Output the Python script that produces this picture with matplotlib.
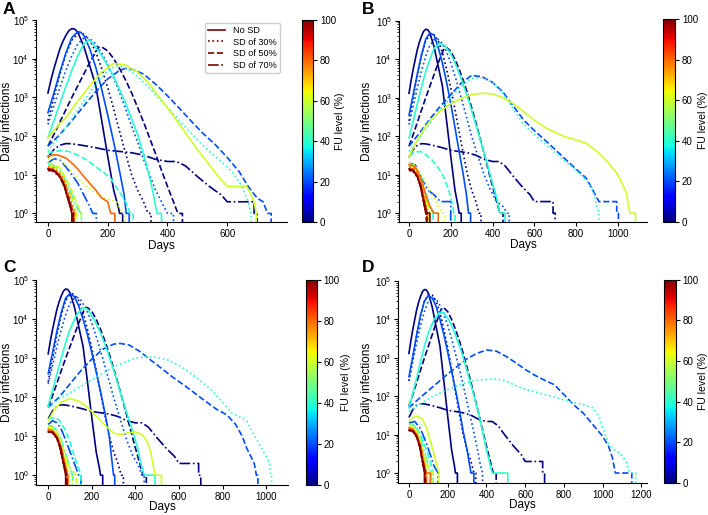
import matplotlib
matplotlib.use("Agg")
import matplotlib.pyplot as plt
from matplotlib.lines import Line2D
from matplotlib.colors import Normalize
from matplotlib.cm import ScalarMappable

plt.rcParams['font.family'] = ['Liberation Sans', 'DejaVu Sans']

# FU level (%) -> colour via jet; SD level -> line style
fu_levels = [0, 20, 40, 60, 80, 100]
sd_labels = ['No SD', 'SD of 30%', 'SD of 50%', 'SD of 70%']
sd_styles = ['-', ':', '--', '-.']

# curves shared by all panels (FU = 0 %)
fu0_curves = [
    (0, '-', [0, 10, 20, 30, 40, 50, 60, 70, 80, 90, 100, 120, 140, 160, 180, 200, 220, 235, 240, 250, 250],
     [1300, 2800, 5500, 1e4, 1.8e4, 2.8e4, 4e4, 5.3e4, 6e4, 5.8e4, 4.8e4, 2.1e4, 6500, 2000, 250, 30, 4, 1.5, 1, 1, 0]),
    (0, ':', [0, 20, 40, 60, 80, 100, 110, 120, 140, 160, 180, 200, 220, 240, 260, 280, 300, 320, 335, 345, 345],
     [250, 1000, 4000, 1.3e4, 3e4, 4.4e4, 4.5e4, 4.3e4, 3e4, 1.5e4, 5500, 1800, 500, 130, 35, 10, 4, 2, 1, 1, 0]),
    (0, '--', [0, 20, 40, 60, 80, 100, 120, 140, 160, 170, 180, 200, 220, 240, 260, 280, 300, 320, 340, 360, 380, 400, 420, 435, 450, 450],
     [55, 110, 230, 480, 1000, 2000, 4000, 8000, 1.5e4, 2e4, 2e4, 1.6e4, 1e4, 5500, 2800, 1300, 550, 230, 90, 35, 13, 5, 2, 1, 1, 0]),
    (0, '-.', [0, 20, 40, 60, 80, 100, 130, 160, 200, 240, 280, 320, 360, 400, 430, 460, 500, 540, 580, 600, 660, 690, 690, 700, 700],
     [28, 45, 58, 64, 63, 60, 55, 50, 43, 40, 37, 32, 25, 22, 22, 17, 9, 5, 3, 2, 2, 2, 1, 1, 0]),
]

panel_a = [
    (20, '-', [0, 20, 40, 60, 80, 100, 110, 120, 140, 160, 180, 200, 220, 240, 255, 262, 272, 272],
     [400, 1300, 4500, 1.4e4, 3.5e4, 5e4, 4.8e4, 4e4, 1.8e4, 6000, 1600, 350, 70, 12, 3, 1, 1, 0]),
    (20, ':', [0, 20, 40, 60, 80, 100, 120, 130, 140, 160, 180, 200, 220, 240, 260, 280, 300, 320, 340, 360, 380, 400, 420, 420],
     [200, 600, 1800, 5000, 1.2e4, 2.4e4, 3.4e4, 3.5e4, 3.3e4, 2.4e4, 1.4e4, 7000, 3200, 1300, 500, 180, 70, 25, 10, 4, 2, 1, 1, 0]),
    (20, '--', [0, 40, 80, 120, 160, 200, 240, 260, 280, 320, 360, 400, 440, 480, 520, 560, 600, 640, 670, 700, 720, 735, 747, 747],
     [55, 110, 250, 600, 1400, 3000, 5000, 5600, 5400, 4000, 2200, 1100, 520, 240, 115, 60, 28, 12, 5, 2.5, 2, 1, 1, 0]),
    (20, '-.', [0, 20, 40, 60, 80, 100, 120, 140, 150, 162, 162],
     [20, 26, 24, 16, 10, 6, 3, 1.5, 1, 1, 0]),
    (40, '-', [0, 20, 40, 60, 80, 100, 120, 140, 180, 220, 260, 300, 330, 350, 365, 380, 380],
     [90, 250, 700, 1900, 5000, 1.2e4, 2.4e4, 3.1e4, 1.2e4, 3500, 700, 110, 18, 4, 1, 1, 0]),
    (40, ':', [0, 40, 80, 120, 160, 200, 230, 260, 300, 340, 380, 420, 460, 500, 540, 580, 620, 650, 670, 680, 680],
     [40, 100, 280, 800, 2200, 5000, 6500, 5800, 3500, 1700, 800, 370, 170, 80, 40, 22, 11, 5, 2, 1, 0]),
    (40, '--', [0, 20, 45, 70, 100, 130, 160, 190, 210, 240, 260, 275, 285, 285],
     [35, 40, 42, 40, 32, 24, 16, 11, 8, 3.5, 2, 1, 1, 0]),
    (40, '-.', [0, 20, 40, 60, 80, 100, 112, 112], [18, 17, 13, 7, 3, 1.3, 1, 0]),
    (60, '-', [0, 30, 60, 100, 140, 180, 220, 260, 300, 340, 380, 420, 460, 500, 540, 570, 600, 640, 665, 680, 690, 697, 697],
     [90, 170, 300, 800, 2000, 4500, 7600, 6800, 4500, 2200, 850, 330, 120, 45, 18, 9, 5, 5, 5, 3, 2, 1, 0]),
    (60, ':', [0, 20, 40, 60, 80, 100, 130, 160, 190, 230, 250, 258, 258],
     [25, 27, 24, 18, 12, 8, 5, 3.3, 2.5, 2, 1, 1, 0]),
    (60, '--', [0, 20, 40, 60, 80, 100, 112, 118], [20, 19, 15, 8, 4, 1.6, 1, 0]),
    (60, '-.', [0, 20, 40, 60, 80, 95, 105], [17, 16, 12, 6, 2.5, 1, 0]),
    (80, '-', [0, 20, 35, 60, 80, 100, 120, 140, 160, 180, 200, 210, 224, 224],
     [30, 33, 32, 27, 20, 14, 9, 6, 4, 2.5, 2, 1, 1, 0]),
    (80, ':', [0, 20, 40, 60, 75, 90, 100], [16, 15, 11, 6, 2.5, 1, 0]),
    (80, '--', [0, 20, 40, 60, 75, 88, 98], [15, 14, 10, 5, 2, 1, 0]),
    (80, '-.', [0, 20, 40, 60, 75, 85, 92], [14, 13, 9, 4, 1.5, 1, 0]),
    (100, '-', [0, 20, 40, 55, 70, 80, 88], [14, 13, 9, 5, 2, 1, 0]),
    (100, ':', [0, 20, 40, 55, 70, 82, 90], [13, 12, 8.5, 5, 2, 1, 0]),
    (100, '--', [0, 20, 40, 55, 70, 84, 92], [13, 12.5, 9, 5, 2, 1, 0]),
    (100, '-.', [0, 20, 40, 55, 70, 85, 95], [14, 13, 9, 5.5, 2.2, 1, 0]),
]

panel_b = [
    (20, '-', [0, 20, 40, 60, 80, 100, 120, 140, 160, 180, 200, 220, 240, 260, 275, 285, 295, 295],
     [350, 1200, 4200, 1.3e4, 3.3e4, 4.8e4, 4.2e4, 2e4, 8000, 2500, 700, 170, 40, 10, 3, 1, 1, 0]),
    (20, ':', [0, 20, 40, 60, 80, 100, 120, 135, 150, 175, 200, 225, 250, 275, 300, 330, 360, 390, 420, 450, 470, 480, 480],
     [200, 600, 1800, 5000, 1.2e4, 2.3e4, 3.2e4, 3.4e4, 3e4, 1.8e4, 8000, 3000, 1000, 320, 100, 30, 10, 4, 2, 1.5, 1, 1, 0]),
    (20, '--', [0, 50, 100, 150, 200, 250, 300, 350, 400, 450, 500, 550, 600, 650, 700, 750, 800, 850, 880, 910, 950, 995, 995, 1003, 1003],
     [55, 120, 280, 600, 1200, 2400, 3800, 3500, 2500, 1400, 600, 260, 140, 80, 45, 25, 14, 8, 4, 2, 2, 2, 1, 1, 0]),
    (20, '-.', [0, 30, 60, 90, 120, 150, 200, 200], [20, 18, 8, 4, 3, 2, 2, 0]),
    (40, '-', [0, 20, 40, 60, 80, 100, 120, 145, 170, 200, 230, 260, 290, 320, 350, 380, 400, 420, 435, 460, 460],
     [90, 250, 700, 1900, 4800, 1e4, 1.9e4, 2.6e4, 2.3e4, 1.4e4, 6000, 2200, 700, 200, 55, 15, 6, 2.5, 1, 1, 0]),
    (40, ':', [0, 50, 100, 150, 200, 250, 300, 350, 400, 450, 500, 550, 600, 650, 700, 750, 800, 850, 880, 900, 910, 910],
     [40, 90, 220, 500, 1000, 2000, 3200, 3300, 2500, 1300, 500, 200, 110, 65, 38, 22, 13, 7, 4, 1.5, 1, 0]),
    (40, '--', [0, 25, 55, 80, 110, 140, 165, 190, 205, 215, 220, 220],
     [30, 38, 40, 33, 24, 15, 9, 4, 2, 1, 1, 0]),
    (40, '-.', [0, 20, 40, 60, 80, 100, 115, 115], [19, 18, 14, 8, 3.5, 1.5, 1, 0]),
    (60, '-', [0, 20, 40, 70, 100, 150, 200, 250, 300, 350, 400, 450, 500, 550, 600, 650, 700, 750, 800, 850, 900, 950, 1000, 1040, 1058, 1085, 1085],
     [28, 50, 80, 150, 250, 450, 700, 950, 1200, 1300, 1250, 1000, 700, 430, 260, 170, 125, 95, 80, 65, 40, 22, 10, 3.5, 1, 1, 0]),
    (60, ':', [0, 30, 60, 90, 110, 130, 160, 170, 170], [20, 18, 10, 5, 3, 2, 1, 1, 0]),
    (60, '--', [0, 20, 40, 60, 80, 100, 110], [18, 17, 13, 7, 3, 1.2, 0]),
    (60, '-.', [0, 20, 40, 60, 80, 95, 105], [17, 16, 12, 6, 2.5, 1, 0]),
    (80, '-', [0, 20, 40, 60, 80, 100, 120, 140, 140], [18, 17, 13, 7, 3, 1.5, 1, 1, 0]),
    (80, ':', [0, 20, 40, 60, 75, 90, 100], [16, 15, 11, 6, 2.5, 1, 0]),
    (80, '--', [0, 20, 40, 60, 75, 88, 98], [15, 14, 10, 5, 2, 1, 0]),
    (80, '-.', [0, 20, 40, 60, 75, 85, 92], [14, 13, 9, 4, 1.5, 1, 0]),
    (100, '-', [0, 20, 40, 55, 70, 80, 100, 100], [14, 13, 9, 5, 2, 1, 1, 0]),
    (100, ':', [0, 20, 40, 55, 70, 82, 90], [13, 12, 8.5, 5, 2, 1, 0]),
    (100, '--', [0, 20, 40, 55, 70, 84, 92], [13, 12.5, 9, 5, 2, 1, 0]),
    (100, '-.', [0, 20, 40, 55, 70, 85, 95], [14, 13, 9, 5.5, 2.2, 1, 0]),
]

panel_c = [
    (20, '-', [0, 20, 40, 60, 80, 100, 120, 140, 160, 180, 200, 220, 240, 260, 280, 290, 300, 305, 305],
     [400, 1400, 5000, 1.5e4, 3.5e4, 4.6e4, 3.8e4, 2.2e4, 1e4, 4000, 1400, 450, 140, 40, 10, 3, 1, 1, 0]),
    (20, ':', [0, 20, 40, 60, 80, 100, 120, 135, 150, 175, 200, 225, 250, 275, 300, 330, 360, 390, 410, 430, 440, 440],
     [220, 650, 2000, 5500, 1.3e4, 2.6e4, 3.5e4, 3.6e4, 3.1e4, 1.8e4, 8000, 3000, 1000, 320, 100, 28, 8, 3, 2, 1, 1, 0]),
    (20, '--', [0, 50, 100, 150, 200, 250, 300, 330, 370, 420, 470, 520, 570, 620, 670, 720, 770, 820, 860, 890, 910, 930, 945, 955, 962, 962],
     [55, 100, 220, 480, 950, 1700, 2300, 2400, 2200, 1500, 900, 550, 330, 210, 130, 80, 50, 35, 20, 10, 5, 3, 2, 1, 1, 0]),
    (20, '-.', [0, 20, 40, 60, 80, 100, 120, 140, 150, 150], [20, 25, 22, 15, 8, 4, 2, 1, 1, 0]),
    (40, '-', [0, 20, 40, 60, 80, 100, 130, 160, 180, 210, 240, 270, 300, 330, 360, 390, 410, 425, 440, 490, 490],
     [60, 150, 400, 1000, 2500, 5500, 1.3e4, 2e4, 1.8e4, 1e4, 4500, 1600, 500, 140, 40, 12, 5, 2, 1, 1, 0]),
    (40, ':', [0, 50, 100, 150, 200, 250, 300, 350, 400, 450, 500, 550, 600, 650, 700, 750, 800, 840, 880, 910, 940, 970, 1000, 1015, 1020, 1025, 1025],
     [55, 90, 130, 190, 280, 420, 600, 800, 1000, 1100, 1050, 900, 650, 430, 260, 150, 75, 40, 31, 25, 12, 6, 3, 2, 1, 1, 0]),
    (40, '--', [0, 30, 50, 80, 100, 120, 140, 150, 155], [28, 30, 26, 14, 7, 3, 1.5, 1, 0]),
    (40, '-.', [0, 20, 40, 60, 80, 100, 112, 118], [19, 18, 14, 8, 3.5, 1.5, 1, 0]),
    (60, '-', [0, 30, 60, 100, 140, 180, 210, 240, 270, 300, 330, 360, 400, 430, 450, 470, 480, 490, 520, 520],
     [25, 50, 75, 92, 80, 55, 38, 25, 17, 12, 11, 12, 13, 11, 8, 4, 2, 1, 1, 0]),
    (60, ':', [0, 20, 40, 60, 80, 100, 110, 110], [17, 16, 12, 6, 2.5, 1, 1, 0]),
    (60, '--', [0, 20, 40, 60, 80, 100, 130, 130], [18, 17, 13, 7, 3, 1.5, 1, 0]),
    (60, '-.', [0, 20, 40, 60, 80, 95, 105], [16, 15, 11, 6, 2.5, 1, 0]),
    (80, '-', [0, 20, 40, 60, 75, 90, 100], [15, 14, 10, 5, 2, 1, 0]),
    (80, ':', [0, 20, 40, 60, 75, 90, 100], [15, 14, 10, 5.5, 2.3, 1, 0]),
    (80, '--', [0, 20, 40, 60, 75, 88, 98], [14, 13, 9.5, 5, 2, 1, 0]),
    (80, '-.', [0, 20, 40, 60, 75, 85, 92], [14, 13, 9, 4, 1.5, 1, 0]),
    (100, '-', [0, 20, 40, 55, 70, 80, 88], [13, 12.5, 9, 5, 2, 1, 0]),
    (100, ':', [0, 20, 40, 55, 70, 82, 90], [13, 12, 8.5, 5, 2, 1, 0]),
    (100, '--', [0, 20, 40, 55, 70, 84, 92], [13, 12.5, 9, 5, 2, 1, 0]),
    (100, '-.', [0, 20, 40, 55, 70, 85, 95], [13, 12.5, 9, 5.5, 2.2, 1, 0]),
]

panel_d = [
    (20, '-', [0, 20, 40, 60, 80, 100, 120, 140, 160, 180, 200, 220, 240, 260, 280, 300, 310, 320, 335, 335],
     [320, 1100, 4000, 1.3e4, 3e4, 4.2e4, 3.6e4, 2.2e4, 1e4, 4000, 1400, 450, 150, 45, 12, 4, 2, 1, 1, 0]),
    (20, ':', [0, 20, 40, 60, 80, 100, 120, 135, 150, 175, 200, 225, 250, 275, 300, 330, 350, 370, 380, 380],
     [250, 800, 2500, 7000, 1.6e4, 3e4, 3.6e4, 3.5e4, 2.9e4, 1.6e4, 7000, 2500, 800, 250, 70, 15, 5, 1.5, 1, 0]),
    (20, '--', [0, 50, 100, 150, 200, 250, 300, 350, 400, 450, 500, 550, 600, 650, 700, 750, 800, 850, 900, 950, 1000, 1030, 1050, 1065, 1150, 1150],
     [50, 85, 140, 230, 380, 600, 950, 1300, 1600, 1500, 1100, 750, 500, 350, 260, 200, 110, 60, 36, 18, 9, 5, 2.5, 1, 1, 0]),
    (20, '-.', [0, 30, 60, 90, 110, 130, 150, 155], [20, 22, 14, 6, 3, 1.5, 1, 0]),
    (40, '-', [0, 20, 40, 60, 80, 100, 130, 160, 180, 210, 240, 270, 300, 330, 360, 380, 400, 415, 430, 510, 510],
     [50, 120, 300, 800, 2000, 4500, 1e4, 1.55e4, 1.5e4, 9000, 4000, 1500, 450, 130, 35, 12, 4, 2, 1, 1, 0]),
    (40, ':', [0, 50, 100, 150, 200, 250, 300, 350, 400, 450, 500, 550, 600, 650, 700, 750, 800, 850, 900, 950, 980, 1000, 1030, 1060, 1090, 1120, 1140, 1170, 1170],
     [40, 60, 85, 115, 150, 190, 230, 260, 275, 280, 250, 190, 150, 130, 110, 95, 80, 68, 60, 50, 30, 15, 6, 4, 3.2, 2, 1, 1, 0]),
    (40, '--', [0, 30, 60, 90, 110, 125, 135], [18, 17, 10, 4, 2, 1, 0]),
    (40, '-.', [0, 20, 40, 60, 80, 100, 115, 115], [19, 18, 14, 8, 3.5, 1.5, 1, 0]),
    (60, '-', [0, 20, 45, 70, 90, 110, 130, 145, 155, 160], [22, 28, 30, 25, 15, 7, 3, 1.5, 1, 0]),
    (60, ':', [0, 20, 40, 60, 80, 100, 115, 115], [17, 16, 12, 6, 2.5, 1.2, 1, 0]),
    (60, '--', [0, 20, 40, 60, 80, 100, 125, 125], [18, 17, 13, 7, 3, 1.5, 1, 0]),
    (60, '-.', [0, 20, 40, 60, 80, 95, 105], [16, 15, 11, 6, 2.5, 1, 0]),
    (80, '-', [0, 20, 40, 60, 75, 90, 110, 110], [15, 14, 10, 5, 2, 1, 1, 0]),
    (80, ':', [0, 20, 40, 60, 75, 90, 100], [15, 14, 10, 5.5, 2.3, 1, 0]),
    (80, '--', [0, 20, 40, 60, 75, 88, 98], [14, 13, 9.5, 5, 2, 1, 0]),
    (80, '-.', [0, 20, 40, 60, 75, 85, 92], [14, 13, 9, 4, 1.5, 1, 0]),
    (100, '-', [0, 20, 40, 55, 70, 80, 88], [13, 12.5, 9, 5, 2, 1, 0]),
    (100, ':', [0, 20, 40, 55, 70, 82, 90], [13, 12, 8.5, 5, 2, 1, 0]),
    (100, '--', [0, 20, 40, 55, 70, 84, 92], [13, 12.5, 9, 5, 2, 1, 0]),
    (100, '-.', [0, 20, 40, 55, 70, 85, 95], [13, 12.5, 9, 5.5, 2.2, 1, 0]),
]

panels = [
    ('A', panel_a, (-40, 800), [0, 200, 400, 600], 0.6),
    ('B', panel_b, (-48, 1140), [0, 200, 400, 600, 800, 1000], 0.6),
    ('C', panel_c, (-56, 1100), [0, 200, 400, 600, 800, 1000], 0.55),
    ('D', panel_d, (-55, 1230), [0, 200, 400, 600, 800, 1000, 1200], 0.55),
]

W, H = 708, 515
# pixel boxes: (left, top, right, bottom) for axes and colorbars
ax_boxes = [(36, 20, 287, 222), (399, 20.7, 647, 221.7), (36, 280.3, 288, 485.3), (398.3, 281, 647.3, 483)]
cb_boxes = [(302, 20, 313, 222), (663, 19, 675, 222), (306, 279.7, 316.7, 485.3), (664, 279.7, 675.7, 483)]
letter_pos = [(3, 14), (362, 14), (3, 272), (362, 272)]
ylabel_x = [-0.115, -0.129, -0.115, -0.126]
xlabel_y = [-0.119, -0.118, -0.108, -0.107]
cblabel_x = [3.45, 3.35, 3.7, 3.35]


def rect(b):
    l, t, r, bt = b
    return [l / W, 1 - bt / H, (r - l) / W, (bt - t) / H]


fig = plt.figure(figsize=(W / 100, H / 100), dpi=100)
cmap = plt.get_cmap('jet')
norm = Normalize(0, 100)

for i, (letter, curves, xlim, xticks, ybot) in enumerate(panels):
    ax = fig.add_axes(rect(ax_boxes[i]))
    ax.set_yscale('log')
    for fu, ls, d, v in fu0_curves + curves:
        ax.plot(d, v, color=cmap(norm(fu)), ls=ls, lw=1.2)
    ax.set_xlim(*xlim)
    ax.set_ylim(ybot, 1e5)
    ax.set_xticks(xticks)
    ax.spines['top'].set_visible(False)
    ax.spines['right'].set_visible(False)
    ax.tick_params(labelsize=7, length=3, width=0.8, pad=2)
    ax.tick_params(which='minor', length=1.8, width=0.6)
    ax.set_xlabel('Days', fontsize=8.5, va='center')
    ax.set_ylabel('Daily infections', fontsize=8.5, va='center')
    ax.xaxis.set_label_coords(0.5, xlabel_y[i])
    ax.yaxis.set_label_coords(ylabel_x[i], 0.5)

    cax = fig.add_axes(rect(cb_boxes[i]))
    cb = fig.colorbar(ScalarMappable(norm=norm, cmap=cmap), cax=cax, ticks=[0, 20, 40, 60, 80, 100])
    cb.ax.tick_params(labelsize=7, length=3, width=0.8, pad=2)
    cb.set_label('FU level (%)', fontsize=7.5, va='center')
    cb.ax.yaxis.set_label_coords(cblabel_x[i], 0.5)
    cb.outline.set_linewidth(0.8)

    lx, ly = letter_pos[i]
    fig.text(lx / W, 1 - ly / H, letter, fontsize=12.5, fontweight='bold', va='baseline', ha='left')

    if letter == 'A':
        handles = [Line2D([], [], color=cmap(norm(100)), ls=s, lw=1.2) for s in sd_styles]
        ax.legend(handles, sd_labels, loc='upper right', bbox_to_anchor=(0.99, 1.01), fontsize=6.6,
                  handlelength=1.9, handletextpad=0.8, borderpad=0.35, labelspacing=0.3,
                  fancybox=True, framealpha=1, edgecolor='#cccccc')

fig.savefig('out.png', dpi=100)
